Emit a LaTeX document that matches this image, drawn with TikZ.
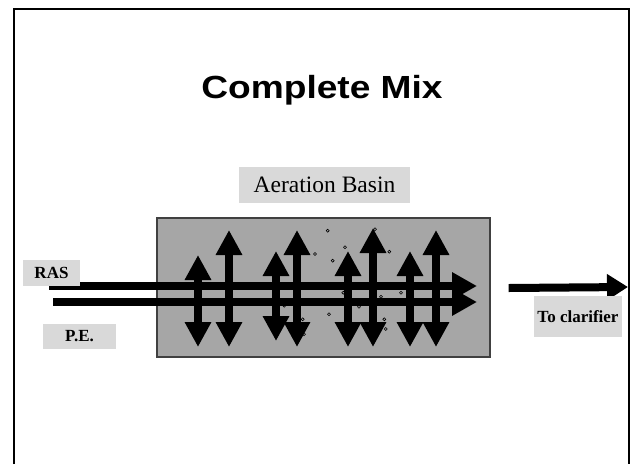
\documentclass[tikz,border=0pt]{standalone}
\usepackage{fontspec}
\setmainfont{Liberation Serif}
\newfontfamily\headfont[FakeStretch=1.16]{Liberation Sans}
\usetikzlibrary{arrows.meta}
\definecolor{basinGray}{HTML}{A6A6A6}
\definecolor{labelGray}{HTML}{D9D9D9}
\newcommand{\flowWidth}{8pt}
\newcommand{\flowTip}{Triangle[length=25pt,width=26pt]}
\newcommand{\mixTip}{Triangle[length=25pt,width=25pt]}
\newcommand{\outTip}{Triangle[length=21pt,width=25pt]}
\tikzset{
  labelbox/.style={fill=labelGray, inner sep=0pt, font=\bfseries\fontsize{17}{18}\selectfont},
  flow/.style={line width=\flowWidth, black}
}

\begin{document}
\begin{tikzpicture}[x=1pt, y=-1pt]
\useasboundingbox (0,0) rectangle (631,464);
% slide frame, open at the bottom
\draw[line width=2pt] (14,464) -- (14,9) -- (629,9) -- (629,464);

\node (title) [anchor=base, font=\headfont\bfseries\fontsize{32}{32}\selectfont] at (322,98) {Complete Mix};

\node (basin) [draw=black!75, line width=1.2pt, fill=basinGray, minimum width=333pt, minimum height=139pt, inner sep=0pt] at (323.5,287.5) {};
\node (basinlabel) [fill=labelGray, inner sep=0pt, minimum width=171pt, minimum height=36pt, font=\fontsize{23.5}{26}\selectfont] at (324.5,185) {Aeration Basin};

% inflows
\coordinate (rasin) at (49,286);
\coordinate (pein) at (53,302);
\coordinate (rasout) at (477,286);
\coordinate (peout) at (477,302);
\draw[flow, -{\flowTip}] (rasin) -- (rasout);
\draw[flow, -{\flowTip}] (pein) -- (peout);

% mixing arrows
\foreach \x/\ya/\yb in {198/255/347, 229/230/347, 276/251/341, 297/230/347,
                        348/251/347, 373/228/347, 410/251/347, 436/230/347}
  \draw[flow, {\mixTip}-{\mixTip}] (\x,\ya) -- (\x,\yb);

% air bubbles
\foreach \x/\y in {327.7/230.7, 375/229.3, 345/247.3, 315/254, 332.7/260.7, 389.3/251.7,
                   343.3/292.7, 381/296.7, 401/292.7, 359/306.7, 284.3/305.7, 329/314.3,
                   302.7/319.3, 384.3/319.3, 385.7/329, 304/334.3}
  \draw[black, line width=0.6pt] (\x,\y) circle (1.5pt);

% outflow
\coordinate (effin) at ([xshift=18pt, yshift=-0.5pt]basin.east);
\coordinate (effout) at (628,287);
\draw[flow, -{\outTip}] (effin) -- (effout);

\node (ras) [labelbox, minimum width=57pt, minimum height=26pt] at (51.5,273) {RAS};
\node (pe) [labelbox, minimum width=73pt, minimum height=25pt] at (79.5,336.5) {P.E.};
\node (clarifier) [labelbox, minimum width=88pt, minimum height=41pt] at (578,316.5) {To clarifier};
\end{tikzpicture}
\end{document}
